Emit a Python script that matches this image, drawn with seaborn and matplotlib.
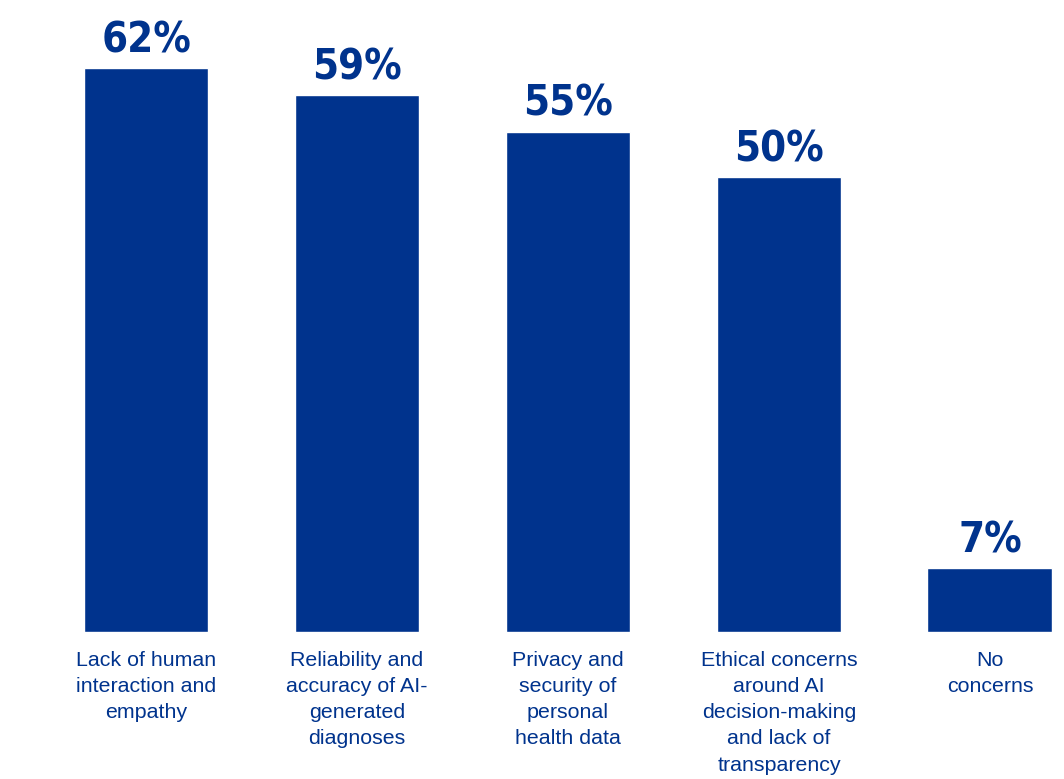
import matplotlib
matplotlib.use("Agg")
import matplotlib.pyplot as plt
import seaborn as sns
import pandas as pd

categories = [
    "Lack of human\ninteraction and\nempathy",
    "Reliability and\naccuracy of AI-\ngenerated\ndiagnoses",
    "Privacy and\nsecurity of\npersonal\nhealth data",
    "Ethical concerns\naround AI\ndecision-making\nand lack of\ntransparency",
    "No\nconcerns",
]
values = [62, 59, 55, 50, 7]
value_labels = ["62%", "59%", "55%", "50%", "7%"]

BLUE = "#00338D"

sns.set_theme(style="white")
plt.rcParams["font.family"] = ["Liberation Sans", "DejaVu Sans"]

df = pd.DataFrame({"cat": categories, "val": values})

fig = plt.figure(figsize=(10.64, 7.79), dpi=100)
ax = fig.add_axes([0, 0.1887, 1, 0.8113])
sns.barplot(data=df, x="cat", y="val", color=BLUE, width=0.592, saturation=1, ax=ax)

ax.set_xlim(-0.692, 4.351)
ax.set_ylim(0, 69.5)
for s in ax.spines.values():
    s.set_visible(False)
ax.set_yticks([])
ax.set_xlabel("")
ax.set_ylabel("")
ax.tick_params(axis="x", length=0, pad=13.5)
for lab in ax.get_xticklabels():
    lab.set_fontsize(15.4)
    lab.set_color(BLUE)
    lab.set_verticalalignment("top")
    lab.set_linespacing(1.48)

for i, (v, t) in enumerate(zip(values, value_labels)):
    ax.annotate(t, xy=(i, v), xytext=(0, 11.5), textcoords="offset points",
                ha="center", va="baseline", fontsize=30, fontweight="bold",
                fontstretch="condensed", color=BLUE, family="DejaVu Sans")

fig.savefig("out.png", dpi=100)
